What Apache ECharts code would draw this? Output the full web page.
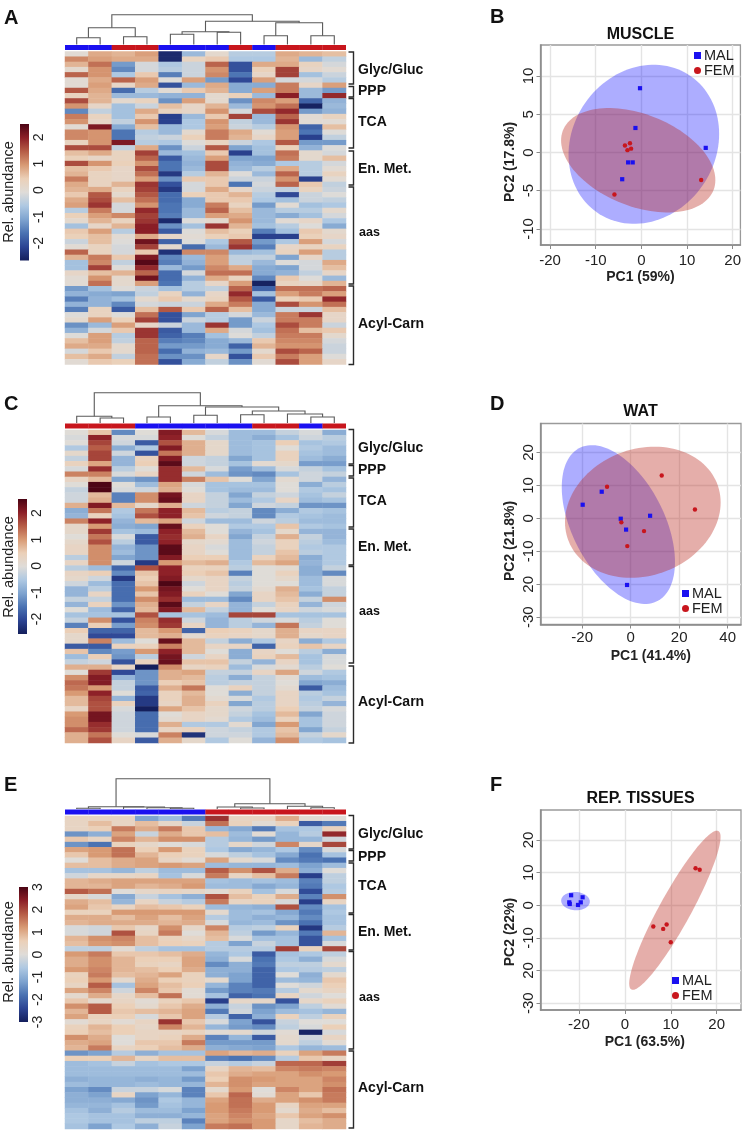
<!DOCTYPE html>
<html><head><meta charset="utf-8">
<style>html,body{margin:0;padding:0;background:#fff}#c{width:744px;height:1131px}</style>
<script src="https://cdn.jsdelivr.net/npm/echarts@6/dist/echarts.min.js"></script>
</head><body><div id="c"></div>
<script>
// ---------- heatmap values (rows top to bottom, 12 columns) ----------
const heatA = [
[0,.8,.7,.9,-2.5,-.8,.1,-.5,-.5,.8,.7,.6],
[1.1,.9,.8,.8,-2.5,.3,.5,-.6,-.6,.7,-.8,-.4],
[.7,1.3,-1.2,-.2,-.6,-.3,1.4,-2,.8,.8,.3,-.2],
[.1,1,-1.4,-.2,-.5,-.3,1,-2,.4,1.7,.2,0],
[1.4,1,-.6,.5,-1.5,-.3,1.1,-1.6,.2,1.7,-.7,-.3],
[0,.8,1.4,.9,-.1,.9,-1.2,-2.1,.9,-.2,-.2,-.5],
[0,.9,.2,.8,-2,-.8,.8,-1,-1,1.2,.2,.9],
[1.5,.8,-1.7,-.5,0,.5,.7,-1,.9,1.2,-.8,-1.2],
[.3,.7,-.8,-.8,-.9,-.9,.1,.4,-.8,2,-.8,1.9],
[1.6,.7,.1,.3,-1.3,.9,.1,-1.3,1.1,.9,-1.8,-.9],
[1,.2,-.7,-.3,.6,.2,.7,-.8,1,1.3,-2.6,-.8],
[-1.4,-.4,-.7,.8,.3,.2,1,-.2,1.6,1.9,-1.2,-.9],
[1.2,.3,-.7,.5,-2.2,-.8,.5,1.7,-.8,1.4,0,.3],
[1,.2,-.4,1,-2.2,-.6,1,-.4,-.8,1.8,0,0],
[0,2.1,-1,.6,-.8,-.6,.9,-.3,-.5,1,-1.8,.6],
[1.1,1,-1.6,-.5,-.8,.1,1.2,.8,0,.9,-1.6,-.1],
[1.1,1,-1.6,-.4,-.3,.4,1.2,.7,.2,.9,-2.2,-.4],
[.3,1,2.1,-.5,-.6,-.1,.3,-.3,-.6,1.5,-1.2,-1.2],
[1.6,1.6,-.4,.8,-1.3,-.3,1.5,-1.1,-.7,.4,-.9,-.1],
[.6,.8,.3,1.7,-.8,-.7,.5,-2.2,-.7,1.3,.1,-.2],
[.4,.2,.3,1.4,-1.9,-.8,.9,-1.1,-1.1,1.2,.1,.6],
[1.6,1,.4,1,-1.6,-.9,1.6,-.9,-1,-.6,-.5,-.2],
[.6,.5,.2,1.6,-1.6,-.8,1.6,-.8,-.5,.8,-.5,0],
[.7,.3,.2,1.3,-2.3,-.5,.7,-.1,-.8,1.4,-.5,.3],
[1.2,.3,.2,.9,-1.3,.5,.5,-.3,-.3,1,-2.2,0],
[.8,.3,.7,1.8,-2,-.2,.5,-1.6,-.2,1.4,.5,-.4],
[.7,.8,.3,1.7,-2.3,-.2,.8,.2,-.3,-.4,.3,-.3],
[.5,1.5,.1,1.5,-1.7,.4,.5,.7,-.5,-2.1,-.3,-.1],
[.8,1.6,.6,1.3,-1.7,-1,.5,.5,-.6,-.7,-.3,-.4],
[.9,1.8,-.2,1,-1.6,-1,1.2,.3,-1.2,0,-.7,-.6],
[-.5,1.2,-.2,1.9,-1.6,-.8,1.4,.6,-.8,-.5,-.5,.1],
[.4,.9,1.1,1.7,-1.5,-.8,.9,.8,-.8,-1,-.7,-.2],
[.1,.7,.3,1.8,-2.5,-.1,.1,1,-.8,0,.2,-.6],
[-.7,.2,.7,2,-1.3,-.7,1.8,.7,-.7,-.5,-.1,-1],
[.5,.9,-.5,2,-1.9,-.1,.6,.4,-1.5,-.7,.5,.1],
[.4,.6,0,.8,.2,0,.4,.5,-2.2,-2.2,.4,.2],
[-.3,.6,-.1,2.2,-1.8,-.1,-.6,1.5,-1.2,-.6,.9,-.2],
[0,.3,-.2,1.7,.1,-1.7,-.8,1.8,-1.5,.2,.3,.3],
[1.4,.3,-.2,.5,-2.4,1.1,1.1,-.8,-.7,.3,.9,-.5],
[.7,1.2,.5,2.1,-1.4,-.8,.9,-.4,-.4,-1.1,.2,-.5],
[-.7,1.1,-.4,2.4,-1.5,-.9,.9,-.4,-.8,-.1,-.2,.8],
[-.7,1.7,-.1,1.9,-.8,-1.2,1.1,.8,-1,-1.1,-.2,.6],
[.2,.6,.7,1.4,-1.7,-.2,1.3,1.3,-1,-.9,-.4,.2],
[0,1,.1,2.2,-1.7,-.9,.8,.3,-1.4,.5,-.1,-.8],
[0,1.3,.1,.9,-1.6,-.5,.2,.9,-2.6,.3,.2,.7],
[-1.2,-.7,-.1,-.3,-.7,-.5,-.4,1.4,-1.8,1.3,1.3,1.4],
[-.9,-1,-1.1,-.4,.3,-.9,.2,1.9,-.7,.9,1.2,.9],
[-1.5,-.9,-.7,.1,.5,.1,.3,1.5,-1.9,.4,.5,1.9],
[-.9,-.9,-1.4,-.2,-.3,-.3,.8,1.2,-1,1.6,1,1.3],
[-1.5,.3,-1.9,.6,1.5,.5,1.4,.6,-1,-.3,-.3,.6],
[-.1,.3,-.1,1.3,-2,-1.1,-.5,-.2,-.8,1.2,1.8,.2],
[.1,.9,.4,1.7,-2,-.3,-.5,-1.2,-.3,1.2,1.2,.2],
[-1.3,-.8,.9,.2,-.3,-.8,1.8,-1.2,-.6,1.6,1.2,-.3],
[-.9,-.2,.5,1.8,-1.9,-.8,.8,-.2,-.7,1.3,.6,.5],
[-.1,.9,-.5,1.8,-1.8,-1.5,-.7,-.1,-.4,1.2,1.2,.1],
[.6,.9,-.4,1.4,-1.5,-1.4,-1,-.8,.5,1.1,1.1,-.2],
[.8,.8,.1,1.4,-1.2,-1.2,-1,-1.8,.7,1,1,-.3],
[-.2,.5,.1,1.4,-1.7,-.9,-.8,-1.2,.1,1.6,1.4,-.3],
[.6,.8,-.4,1.3,-1.3,-1.3,.2,-2,.5,1.2,.9,-.1],
[0,.5,.4,1.3,-2,-1,-.4,-1.3,0,1.6,.9,.2]];

const heatC = [
[0,.6,-1.3,0,2.1,.7,-.1,-.7,-.7,-.3,-.1,-.9],
[-.1,2,-.1,-.1,2,0,-.3,-.7,-.9,-.6,-.2,-.4],
[0,1.7,-.2,-1.8,1.6,.8,.2,-.7,-.6,.5,-.6,-.5],
[-.5,1.5,-.9,-.5,2.1,.8,.2,-.7,-.6,0,-.5,-.7],
[.2,1.7,-.2,-1.9,1.3,.8,.2,-.7,-.6,.4,-.6,-.7],
[-.3,1.7,-.8,.4,2.1,-.2,-.3,-1,-.6,.4,-.7,-.9],
[.4,.9,-.8,.5,2.4,-.2,-.3,-.6,.1,.2,-1.1,-1.1],
[-.1,1.9,-.4,0,1.9,.7,-.1,-1.1,-.7,-.1,-.3,-.6],
[1.2,1.2,-.1,.3,1.9,-.2,-.7,-1.2,-1.3,-.6,-.2,-.3],
[.3,.7,-1,-1.2,1.9,1.2,.6,0,-1,.1,-.2,-.8],
[0,2.5,0,-.7,.9,-.1,-.6,-.6,-.6,0,-.9,-.4],
[-.3,2.5,-.1,-.2,.8,0,-.6,-.7,-.7,0,-.5,-.6],
[-.2,.7,-1.4,1.1,2.2,.3,-.3,-1,-.3,-.2,-.6,-.3],
[-.2,.8,-1.4,1.1,2.3,.3,-.3,-.7,-.5,.3,-.7,-.6],
[.8,2.1,.7,.2,.8,-.2,-.3,-1,-.2,-.3,-1.2,-1.2],
[-.9,1.3,-.5,1.3,2,.7,-.4,-.3,-1.3,-.9,-.5,-.6],
[-.8,.4,-.6,1.6,2,.6,-.2,-.3,-1.3,-.5,-.6,-.7],
[1.2,2,-.8,.7,.9,-.2,-.7,-.7,-.2,-.4,-.7,-.7],
[.2,1,-.9,-1,2.3,.4,0,-.5,-.5,.6,-.5,-.6],
[.2,1.8,-.6,-.7,2,.7,0,-.8,-.6,.2,-.8,-.8],
[0,1.3,-.1,-1.8,1.9,.8,.3,-1,-.3,.8,-.3,-.8],
[.2,1.6,-.4,-1.8,2,.2,.1,-.7,-.2,.4,-.4,-.7],
[.3,1.1,-.8,-1.2,2.4,.3,-.1,-.7,-.3,.4,-.5,-.5],
[.3,1.1,-.7,-1.2,2.4,.3,0,-.7,-.3,.6,-.4,-.5],
[-.4,1.1,-1,-1.2,2.1,.5,.5,-.7,.4,.7,-.9,-.5],
[.3,1.1,-.2,-2.2,1,.7,.8,-.5,.7,.9,-.8,-.5],
[-.4,-.7,-1.7,1.6,2,.4,.4,-.4,0,.1,-.9,-.3],
[.3,.5,-1.3,.6,2,.5,.6,-1.4,0,.4,-.9,-1.3],
[.2,-.2,-2.2,.5,2.1,.2,.3,-.3,0,.2,-.7,-.1],
[-.2,-.7,-1.6,.6,2.5,-.2,.3,-.4,0,0,-.7,-.1],
[-.8,-.4,-1.6,1,2.2,0,.3,-.3,.1,.8,-.6,-.3],
[-.8,.3,-1.6,.6,2.1,.4,0,-1,.3,.7,-.9,-.3],
[-.3,-.3,-1.6,1.1,1.9,-.7,-.7,-1.3,.3,.6,-.3,1.1],
[-.8,.4,-1.2,.8,2.4,-.3,.3,-.8,-.3,.4,-.8,-.2],
[0,-.7,-1.7,.7,2.1,.7,-.3,-.8,0,.3,-.2,-.1],
[-.6,-.6,-.6,1.6,-.6,-.6,-.7,1.7,1.7,-.6,-.6,-.6],
[-.3,1.1,-1.9,1.2,1.9,-.2,-.8,-.4,-.2,-.1,-.4,0],
[-1.4,.5,-1.1,1.1,1.8,.3,-.8,-.4,-.8,1.3,-.3,0],
[.5,-1.7,-1.7,.7,1,-1.7,.5,.4,.2,.8,.3,.3],
[.2,-2,-2,.7,.8,.1,.4,.3,.2,.8,.2,.3],
[.2,1.2,-.7,0,2.3,.7,-.3,-.9,-.5,.3,-.9,-.5],
[-1.8,-1.8,.4,.4,1.2,.7,.3,.3,-1.7,.4,.6,.3],
[.6,-1.3,-1.1,1,2,.7,0,-.9,.3,0,-.4,-.9],
[-.7,.5,-1.2,-.4,2.2,-.2,.3,-.9,.4,.7,-.6,-.1],
[-.3,-.2,-1.9,.4,2.3,.6,.6,-.3,-.8,.3,-.6,-.1],
[.8,.8,.3,-2.7,1.1,.3,.4,-.7,-.1,.1,-.4,0],
[0,1.8,-2,-1.2,.8,.9,-.3,-.3,.3,.9,-.2,-.5],
[1.1,2.1,-.8,-1.2,.8,.7,-.4,-.9,-.3,.1,-.7,-.6],
[1.4,2.1,-.3,-1.2,.5,.6,-.4,-.3,-.3,0,-1,-.9],
[1.3,1,-.3,-1.8,.8,1.3,0,.4,-.3,.1,-1.8,-.7],
[1,2,0,-1.7,.4,.7,0,-.9,-.3,.3,-.4,-.6],
[.7,1.7,-.8,-2.2,.4,.8,.1,-.1,-.5,.3,-.5,-.3],
[.7,1.6,.4,-2.2,.3,.8,.4,-1,-.4,.3,-.4,-.8],
[.3,1.6,-.1,-2.6,.9,.6,.2,-.2,-.4,.5,-.3,-.1],
[1,2.2,-.2,-1.6,0,.3,.2,-.3,-.6,.7,-1,-.2],
[1.1,2.2,-.2,-1.6,.1,.3,.1,-.5,-.7,.4,-.6,-.2],
[1.1,1.9,-.2,-1.6,.8,-.5,-.5,.1,-1,1,-.6,-.2],
[1.4,1.8,-.2,-1.6,.3,.4,-.2,-.3,-.5,.6,-1,-.3],
[.8,1.3,0,-.1,1.2,-2.3,-.2,-.2,-.5,.7,-.3,.2],
[.8,1.6,.3,-1.8,.8,.2,-.5,0,-.8,1.1,-.5,-.6]];

const heatE = [
[.4,.4,.4,-1.2,-.8,-1.7,2.2,.4,.4,1,.1,0],
[.4,.8,.4,.8,.3,-.3,1.6,.5,.1,.5,-2.1,-1.7],
[.4,.6,1.5,1,1.5,.7,-.9,-1.1,-1.7,-.7,-.6,.5],
[-1.4,-1,1.1,-.3,1,.7,.8,-.8,.1,-.9,-.5,2.3],
[.7,.4,1.4,.9,1.3,1.3,-.5,-.9,-1.3,-.9,-.9,-.2],
[-1.4,-1.8,.5,.3,0,-.1,-.5,.3,-.2,1.4,.3,2],
[1.1,1.2,1.6,.6,1.2,.5,-.6,-1.1,-.9,-.6,-1.5,-.1],
[.7,1.2,1.6,.9,.6,.5,-.1,-.4,-.7,-1.1,-1.8,-.7],
[0,.8,1,1.1,.4,.1,1.1,.2,-.1,-1.5,-1.7,-1.8],
[.8,.8,1,1.1,1.2,1.1,-.8,-.9,-.9,-.8,-1.2,-.8],
[-.7,-.7,-.9,-.4,-.8,-.8,1.8,1.3,1.9,1,-1,0],
[-.2,.3,.3,.4,-.7,-.1,1.5,.4,.8,1.5,-2.5,-.4],
[.9,1,1.1,1.1,1.1,1.1,-.7,-.8,-.7,-.8,-1.6,-.4],
[.9,.9,1.1,.9,1,1.2,-.8,-.8,-1.1,-.9,-1.7,-.6],
[1.8,1.6,0,.3,.4,.3,.1,.5,-.7,-.1,-2.3,-.5],
[.3,-.1,-1.1,-.3,-.7,-1,1.9,.8,.5,1,-1.6,1.3],
[1,.8,-.9,.4,-.3,-.5,1.5,.4,.5,-.1,-2.5,.4],
[1.1,.7,.4,.8,.7,.5,-.8,-.9,-1,1.9,-1.5,-.7],
[.5,.5,1.2,1.2,1.2,1.2,.2,-.8,-.7,-1.1,-1.7,-.6],
[1,1,.8,1.1,.8,1.1,-.5,-.8,-1,-.9,-1.5,-.7],
[.9,1,1,1,.9,1,-.1,-.9,-.8,-1.4,-1.8,-.7],
[-.1,-.2,.7,.3,1.3,.3,1.4,-.5,-.4,.5,-2.6,-.5],
[-.1,-.2,1.9,.4,1.5,0,.9,-.4,-1.3,-.9,-1.7,.9],
[.9,1.3,1.4,.8,.5,.3,.8,-.1,-.7,-.7,-2.2,-.7],
[.8,1.2,1.3,.8,.6,.5,-.5,-1.2,-.3,-.7,-2.2,-.1],
[-.4,-.4,.1,-.4,-.7,-.7,-.5,-.5,-.5,2.1,.5,2],
[1.2,1.5,.7,.7,.8,1,-.9,-.6,-2.1,-.7,-.6,-.4],
[1,1.3,.9,.6,.6,1.1,-1,-.1,-1.8,-.6,-1,-.1],
[1,1.3,.9,.5,.4,1.1,-1.5,-1,-1.7,-.4,-.4,.2],
[1.2,1.4,.9,.8,.6,1,-1,-1,-2,-.6,-.5,-.4],
[.5,1.5,.8,.9,1.1,.5,-1,-1.2,-2,0,-1,.2],
[.6,1.2,.2,1,.6,.5,.2,-1.2,-2,-.8,-.9,.7],
[.4,1.8,-.7,1.1,.8,.6,-.9,-1.6,-2,0,-.2,.6],
[1.1,1.4,-.2,1.4,.7,.1,-1.3,-1.6,-1.7,-.5,.2,.4],
[.2,1,.3,.8,1.6,.1,-.7,-2,-1.8,.4,-.2,0],
[.7,.2,.4,.1,.5,.7,-2.5,.3,.3,-2.2,.3,.5],
[1.3,1.8,.6,.2,.7,1,-1,-.3,-1.4,-1.2,-.4,.1],
[.9,1.8,.7,.8,.9,1.1,-1.7,-.2,-1.2,-.8,-.7,-.9],
[1.1,.5,.6,-.1,.7,1.1,-.5,-2,-1,.5,-.4,.5],
[.1,.4,.1,.4,2.2,.7,-.1,-1.2,-2.2,-.3,0,0],
[.5,.9,.6,.3,1.4,.9,-.9,-1.3,-1.5,-.4,-.1,.6],
[.6,.8,.6,.4,.4,.5,.1,.2,-.2,.1,-2.9,-.1],
[1.3,1,0,.4,.5,1,-1.6,-.9,-2.1,.2,-.2,.4],
[1,1.1,0,.7,.7,1.5,-1.3,-1.3,-1.3,.2,-.4,.1],
[.9,1.5,.4,.6,.8,1,-1,-1.1,-1.2,-.6,-.9,-.8],
[-1.4,-1.2,-.5,-1,-.7,-.7,1.1,.9,1,.5,1.1,1.5],
[.6,.6,.9,.4,.8,.8,-1.6,-1.8,-1.5,-.5,.7,.4],
[-.8,-.7,-.3,-.7,-.6,-.6,-.3,-.5,-.3,1.7,1.7,2.1],
[-.8,-.8,-.8,-.8,-.8,-1.2,.4,.9,.8,1.4,1.5,1.4],
[-.8,-.8,-.8,-.8,-.8,-.8,.7,1,1.1,1.1,1.3,1.2],
[-1,-.9,-.9,-1,-.9,-1.3,.6,1.3,1.2,1.1,1.1,1.4],
[-.8,-.9,-.9,-.8,-.9,-.9,.9,1.3,1.1,1.1,1.1,1.3],
[-1.2,-1.5,-.3,-.3,-.1,-1.6,.2,1.2,0,1.4,1.1,1.6],
[-1,-1.2,.4,-1.2,-.9,-1.6,.7,1.7,.1,1.1,.7,1.5],
[-1,-1,-1.1,-1.4,-.6,-.9,1.1,1.6,1,1.1,1.3,1.5],
[-.9,-.9,-.7,-1.3,-.7,-.9,1.2,1.6,1.2,.4,1.1,1.1],
[-.7,-1,-.5,-.8,-.8,-1.2,1.2,1.5,1.2,.2,1,.8],
[-.6,-.7,-.7,-1,-1,-.9,1.1,1.4,1.1,.7,1.1,1.3],
[-.6,-.7,-.7,-.4,-.4,-1.6,1.1,1.3,1.2,.3,.8,1],
[-.7,-1.2,-.6,-1,-.3,-1.2,1.5,1.6,1.2,.3,.9,1]];

// sample sex along the top of each heatmap
const sexA = ['M','M','F','F','M','M','M','F','M','F','F','F'];
const sexC = ['F','F','F','M','M','M','M','M','F','F','M','F'];
const sexE = ['M','M','M','M','M','M','F','F','F','F','F','F'];

// dendrogram merges: [left x, left height, right x, right height, merge height]
const treeA = [[.5,0,1.5,0,6.7],[2.5,0,3.5,0,7.7],[1,6.7,3,7.7,16.7],[4.5,0,5.5,0,10.3],[6.5,0,7.5,0,12.3],[5,10.3,7,12.3,12.7],[8.5,0,9.5,0,8.7],[10.5,0,11.5,0,8.7],[9,8.7,11,8.7,21.7],[6,12.7,10,21.7,23.3],[2,16.7,8,23.3,29.7]];
const treeC = [[1.5,0,2.5,0,5],[.5,0,2,5,6.7],[3.5,0,4.5,0,6],[5.5,0,6.5,0,7.7],[7.5,0,8.5,0,8.3],[10.5,0,11.5,0,6],[9.5,0,11,6,9],[8,8.3,10.25,9,12],[6,7.7,9.125,12,16],[4,6,7.56,16,17.3],[1.25,6.7,5.78,17.3,30.3]];
const treeE = [[.5,0,1.5,0,.7],[4.5,0,5.5,0,.7],[3.5,0,5,.7,1.3],[2.5,0,4.25,1.3,2],[1,.7,3.37,2,2.3],[7.5,0,8.5,0,1],[6.5,0,8,1,2],[10.5,0,11.5,0,1.3],[9.5,0,11,1.3,2.7],[7.25,2,10.25,2.7,5.3],[2.18,2.3,8.75,5.3,30.3]];

const groupNames = ['Glyc/Gluc','PPP','TCA','En. Met.','aas','Acyl-Carn'];

// colour-scale ranges and ticks
const scaleA = [-2.66,2.5], ticksA = [-2,-1,0,1,2];
const scaleC = [-2.57,2.53], ticksC = [-2,-1,0,1,2];
const scaleE = [-3,3], ticksE = [-3,-2,-1,0,1,2,3];

// PCA scores
const muscleMal = [[-.3,8.4],[-1.3,3.2],[14.1,.6],[-2.9,-1.3],[-1.9,-1.3],[-4.2,-3.5]];
const muscleFem = [[-2.5,1.2],[-3.6,.9],[-3.05,.3],[-2.25,.5],[13.1,-3.6],[-5.9,-5.5]];
const watMal = [[-11.95,8.1],[-19.8,4.15],[-4.1,-.1],[8,.8],[-1.9,-3.4],[-1.5,-20.2]];
const watFem = [[-9.75,9.6],[12.8,13],[26.5,2.7],[-3.85,-1.2],[5.5,-3.85],[-1.4,-8.4]];
const repMal = [[-11.7,3.07],[-9.2,2.45],[-12.1,.9],[-12,.4],[-9.6,.9],[-10.2,.1]];
const repFem = [[15.4,11.35],[16.3,10.9],[6.2,-6.5],[8.35,-7.25],[9.1,-5.9],[10,-11.35]];

// confidence ellipses: [centre x, centre y, half-width, half-height, correlation]
const muscleEllMal = [.54,1.07,16.5,10.4,.13];
const muscleEllFem = [-.69,-1.02,16.9,6.82,-.38];
const watEllMal = [-5.08,-1.87,23.35,24.1,-.47];
const watEllFem = [5,1.87,32.1,19.9,.15];
const repEllMal = [-10.75,1.28,3.12,2.81,-.05];
const repEllFem = [10.9,-1.53,9.95,24.4,.92];

// tick labels (tick value -> printed label)
const muscleXT = [[-20,'-20'],[-10,'-10'],[0,'0'],[10,'10'],[20,'20']];
const muscleYT = [[-10,'-10'],[-5,'-5'],[0,'0'],[5,'5'],[10,'10']];
const watXT = [[-20,'-20'],[0,'0'],[20,'20'],[40,'40']];
const watYT = [[-30,'-30'],[-20,'20'],[-10,'-10'],[0,'0'],[10,'10'],[20,'20']];
// the printed x axis of panel F is not uniform: "-20" sits where -10 would be
const repXT = [[-10,'-20'],[0,'0'],[10,'10'],[20,'20']];
const repYT = [[-30,'-30'],[-20,'20'],[-10,'-10'],[0,'0'],[10,'10'],[20,'20']];

// ---------- drawing ----------
const FONT = '"Liberation Sans", Arial, sans-serif';
const palette = ['#141f5c','#2c4493','#4a72b2','#7ea3cf','#aec8e2','#dfdcd8','#ebd0b8','#d89a74','#b65c46','#8c1f27','#4a0414'];
const BLUE = '#1a10f0', RED = '#c8161d';
const grid=[], xAxis=[], yAxis=[], series=[], visualMap=[], graphic=[], legend=[];
const colNames = Array.from({length:12},(_,i)=>'S'+(i+1));
const rowNames = Array.from({length:60},(_,i)=>'M'+(i+1));

function addGrid(g,x,y){
  grid.push(Object.assign({containLabel:false},g));
  const i=grid.length-1;
  xAxis.push(Object.assign({gridIndex:i},x));
  yAxis.push(Object.assign({gridIndex:i,},y));
  return i;
}
const hidden={show:false};
function text(t,x,y,size,opts){
  graphic.push(Object.assign({type:'text',x,y,silent:true,rotation:(opts&&opts.rot)||0,
    style:{text:t,fill:(opts&&opts.fill)||'#111',font:((opts&&opts.weight)||'bold')+' '+size+'px '+FONT,
      textAlign:(opts&&opts.align)||'left',textVerticalAlign:'middle',verticalAlign:'middle'}}));
}

function heatPanel(p){
  const L=65,W=281,H=313;
  // dendrogram
  let i=addGrid({left:L,width:W,top:p.base-40,height:40},
    {type:'value',min:0,max:12,show:false,splitLine:hidden},
    {type:'value',min:0,max:40,show:false,splitLine:hidden});
  series.push({type:'custom',xAxisIndex:i,yAxisIndex:i,silent:true,animation:false,data:p.tree,clip:false,
    renderItem:(pr,api)=>{
      const a=api.coord([api.value(0),api.value(1)]),b=api.coord([api.value(0),api.value(4)]),
            c=api.coord([api.value(2),api.value(4)]),d=api.coord([api.value(2),api.value(3)]);
      return {type:'polyline',shape:{points:[a,b,c,d]},style:{stroke:'#5a5a5a',lineWidth:1.1,fill:null}};
    }});
  // annotation bar
  i=addGrid({left:L,width:W,top:p.base+.5,height:5},
    {type:'category',data:colNames,show:false},
    {type:'value',min:0,max:1,show:false,splitLine:hidden});
  series.push({type:'bar',xAxisIndex:i,yAxisIndex:i,silent:true,animation:false,barWidth:'101%',
    data:p.sex.map(s=>({value:1,itemStyle:{color:s==='M'?BLUE:RED}}))});
  // heatmap
  i=addGrid({left:L,width:W,top:p.top,height:H},
    {type:'category',data:colNames,show:false},
    {type:'category',data:rowNames,inverse:true,show:false});
  const data=[]; p.heat.forEach((r,y)=>r.forEach((v,x)=>data.push([x,y,v])));
  series.push({type:'heatmap',xAxisIndex:i,yAxisIndex:i,silent:true,animation:false,progressive:0,data,itemStyle:{borderWidth:0}});
  visualMap.push({show:false,type:'continuous',seriesIndex:series.length-1,min:p.scale[0],max:p.scale[1],inRange:{color:palette},dimension:2});
  // colour bar
  i=addGrid({left:p.cbx,width:9,top:p.cbt,height:p.cbb-p.cbt},
    {type:'value',min:0,max:1,show:false,splitLine:hidden},
    {type:'value',min:p.scale[0],max:p.scale[1],position:'right',splitLine:hidden,axisLine:hidden,
     axisTick:{show:false,customValues:p.ticks},
     axisLabel:{customValues:p.ticks,rotate:90,fontSize:14,fontFamily:FONT,color:'#222',margin:3,align:'center',verticalAlign:'top',hideOverlap:false,showMinLabel:true,showMaxLabel:true}});
  series.push({type:'custom',xAxisIndex:i,yAxisIndex:i,silent:true,animation:false,clip:false,data:[[0,p.scale[0],1,p.scale[1]]],
    renderItem:(pr,api)=>{
      const a=api.coord([api.value(0),api.value(3)]),b=api.coord([api.value(2),api.value(1)]);
      return {type:'rect',shape:{x:a[0],y:a[1],width:b[0]-a[0],height:b[1]-a[1]},
        style:{fill:new echarts.graphic.LinearGradient(0,0,0,1,palette.slice().reverse().map((c,k)=>({offset:k/10,color:c})))}};
    }});
  text('Rel. abundance',9,p.relY,14.5,{rot:Math.PI/2,align:'center',weight:'normal',fill:'#222'});
  // brackets and labels
  p.br.forEach((b,k)=>{
    graphic.push({type:'polyline',silent:true,shape:{points:[[348.5,b[0]],[353.5,b[0]],[353.5,b[1]],[348.5,b[1]]]},style:{stroke:'#2a2a2a',lineWidth:1.4,fill:null}});
    text(groupNames[k],358+(k===4?1:0),p.lab[k],k===4?12.5:14);
  });
  text(p.letter,4,p.letY,20);
}

heatPanel({letter:'A',letY:18,base:44.5,top:51.5,heat:heatA,sex:sexA,tree:treeA,scale:scaleA,ticks:ticksA,cbx:20,cbt:124,cbb:260.6,relY:192,
  br:[[52,84],[86.5,97],[98.5,148],[151,185],[187,284],[286,364.5]],lab:[70,91,122,169,233,324]});
heatPanel({letter:'C',letY:404,base:423,top:430,heat:heatC,sex:sexC,tree:treeC,scale:scaleC,ticks:ticksC,cbx:18,cbt:499,cbb:634,relY:567,
  br:[[429.5,464],[465.5,476],[478,527],[529,565],[566.5,663],[666,743]],lab:[448,470,501,547,612,702]});
heatPanel({letter:'E',letY:785,base:809,top:816,heat:heatE,sex:sexE,tree:treeE,scale:scaleE,ticks:ticksE,cbx:19,cbt:887,cbb:1022,relY:952,
  br:[[815.5,849],[850.5,861],[863,913],[914.5,950],[951.5,1049],[1051,1128]],lab:[834,857,886,932,998,1088]});

function ellipseSeries(i,e,fill){
  return {type:'custom',xAxisIndex:i,yAxisIndex:i,silent:true,animation:false,data:[e],
    renderItem:(pr,api)=>{
      const cx=api.value(0),cy=api.value(1),ax=api.value(2),ay=api.value(3),r=api.value(4),pts=[];
      for(let k=0;k<120;k++){const t=k/120*2*Math.PI;
        pts.push(api.coord([cx+ax*Math.cos(t),cy+ay*(r*Math.cos(t)+Math.sqrt(1-r*r)*Math.sin(t))]));}
      return {type:'polygon',shape:{points:pts},style:{fill}};
    }};
}
function pcaPanel(p){
  const lab=(t)=>{const m=new Map(t);return v=>m.has(v)?m.get(v):'';};
  const axisBase={splitLine:{show:true,lineStyle:{color:'#e4e4e4',width:1.4}},
    axisLine:{show:true,onZero:false,lineStyle:{color:'#8a8a8a',width:1.5}}};
  const i=addGrid({left:540.5,width:200.5,top:p.top,height:p.h,show:true,borderColor:'#9a9a9a',borderWidth:1.3,backgroundColor:'#fff'},
    Object.assign({type:'value',min:p.x[0],max:p.x[1],name:p.xName,nameLocation:'middle',nameGap:25,
      nameTextStyle:{fontFamily:FONT,fontWeight:'bold',fontSize:14,color:'#222',padding:[0,0,0,p.xShift||0]},
      axisTick:{show:true,length:4,lineStyle:{color:'#8a8a8a'},customValues:p.xt.map(d=>d[0])},
      axisLabel:{customValues:p.xt.map(d=>d[0]),formatter:lab(p.xt),fontFamily:FONT,fontSize:15,color:'#222',margin:p.xm,hideOverlap:false}},axisBase),
    Object.assign({type:'value',min:p.y[0],max:p.y[1],name:p.yName,nameLocation:'middle',nameGap:23,nameRotate:90,
      nameTextStyle:{fontFamily:FONT,fontWeight:'bold',fontSize:14,color:'#222',padding:[0,p.yShift||0,0,0]},
      axisTick:{show:true,length:4,lineStyle:{color:'#8a8a8a'},customValues:p.yt.map(d=>d[0])},
      axisLabel:{customValues:p.yt.map(d=>d[0]),formatter:lab(p.yt),rotate:90,fontFamily:FONT,fontSize:15,color:'#222',margin:4,align:'center',verticalAlign:'bottom',hideOverlap:false}},axisBase));
  series.push(ellipseSeries(i,p.ellM,'rgba(0,0,255,0.32)'));
  series.push(ellipseSeries(i,p.ellF,'rgba(185,35,25,0.37)'));
  series.push({type:'scatter',name:'MAL',xAxisIndex:i,yAxisIndex:i,symbol:'rect',symbolSize:4.2,silent:true,animation:false,data:p.mal,itemStyle:{color:BLUE,opacity:1}});
  series.push({type:'scatter',name:'FEM',xAxisIndex:i,yAxisIndex:i,symbol:'circle',symbolSize:4.4,silent:true,animation:false,data:p.fem,itemStyle:{color:RED,opacity:1}});
  legend.push({left:p.leg[0],top:p.leg[1],orient:'vertical',selectedMode:false,itemWidth:7,itemHeight:7,itemGap:0,padding:0,
    textStyle:{fontFamily:FONT,fontSize:14.5,color:'#222',padding:[0,0,0,-2],lineHeight:15},
    data:[{name:'MAL',icon:'rect',itemStyle:{color:BLUE}},{name:'FEM',icon:'circle',itemStyle:{color:RED}}]});
  text(p.title,640.5,p.titleY,16,{align:'center'});
  text(p.letter,490,p.letY,20);
}
pcaPanel({letter:'B',letY:17,title:'MUSCLE',titleY:35,top:45,h:200,x:[-22.1,21.7],y:[-12.1,14.05],xt:muscleXT,yt:muscleYT,xm:8,
  xName:'PC1 (59%)',yName:'PC2 (17.8%)',yShift:34,mal:muscleMal,fem:muscleFem,ellM:muscleEllMal,ellF:muscleEllFem,leg:[694,48]});
pcaPanel({letter:'D',letY:404,title:'WAT',titleY:412,top:423.5,h:201,x:[-37.2,45.5],y:[-32.2,28.8],xt:watXT,yt:watYT,xm:6,
  xName:'PC1 (41.4%)',yName:'PC2 (21.8%)',xShift:20,yShift:34,mal:watMal,fem:watFem,ellM:watEllMal,ellF:watEllFem,leg:[682,586]});
pcaPanel({letter:'F',letY:785,title:'REP. TISSUES',titleY:799,top:810,h:200,x:[-18.37,25.3],y:[-32.1,29.2],xt:repXT,yt:repYT,xm:7,
  xName:'PC1 (63.5%)',yName:'PC2 (22%)',xShift:8,yShift:44,mal:repMal,fem:repFem,ellM:repEllMal,ellF:repEllFem,leg:[672,973]});

const chart=echarts.init(document.getElementById('c'),null,{renderer:'canvas'});
chart.setOption({animation:false,backgroundColor:'#fff',textStyle:{fontFamily:FONT},grid,xAxis,yAxis,series,visualMap,legend,graphic:{elements:graphic}});
</script></body></html>
